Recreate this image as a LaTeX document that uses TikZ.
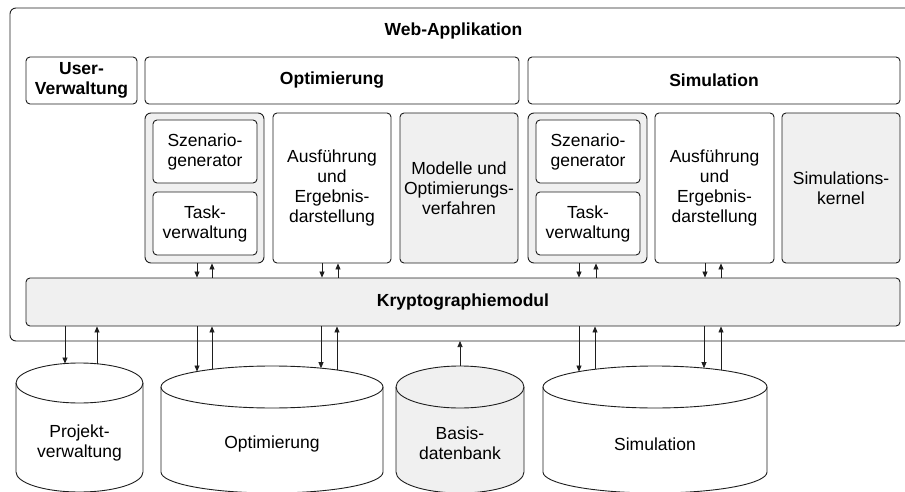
\documentclass[tikz,border=0pt]{standalone}
\usepackage{fontspec}
\setmainfont{Liberation Sans}
\usetikzlibrary{arrows.meta,intersections,calc}
\definecolor{lg}{RGB}{240,240,240}
\definecolor{ln}{RGB}{30,30,30}
\tikzset{
  base/.style={draw=ln, line width=0.9pt, rounded corners=4pt, align=center, inner sep=0pt,
    font=\fontsize{17.5}{20}\selectfont},
  whitebox/.style={base, fill=white},
  graybox/.style={base, fill=lg},
  groupbox/.style={base, fill=lg, rounded corners=6pt},
  head/.style={base, fill=white, font=\fontsize{17.5}{20}\selectfont\bfseries},
  lbl/.style={align=center, inner sep=0pt, font=\fontsize{17.5}{20}\selectfont},
  arr/.style={draw=ln, line width=0.7pt, -{Triangle[length=6pt,width=5pt]}},
}
\newcommand{\dbcyl}[6]{% #1 name, #2 cx, #3 rx, #4 top centre y, #5 ry, #6 fill
  \path[draw=ln, line width=0.9pt, fill=#6] (#2-#3,-#4) -- (#2-#3,-472)
    arc[start angle=180,end angle=360,x radius=#3,y radius=#5] -- (#2+#3,-#4)
    arc[start angle=0,end angle=180,x radius=#3,y radius=#5] -- cycle;
  \draw[draw=ln, line width=0.9pt] (#2-#3,-#4) arc[start angle=180,end angle=360,x radius=#3,y radius=#5];
  \path[name path=#1top] (#2+#3,-#4) arc[start angle=0,end angle=180,x radius=#3,y radius=#5];
}
\newcommand{\kdown}[2]{%
  \path[name path=vline] (#1,-300) -- (#1,-420);
  \draw[arr, name intersections={of=vline and #2top, by=ip}] (kr.south -| ip) -- (ip);
}
\newcommand{\kup}[2]{%
  \path[name path=vline] (#1,-300) -- (#1,-420);
  \draw[arr, name intersections={of=vline and #2top, by=ip}] (ip) -- (kr.south -| ip);
}
\begin{document}
\begin{tikzpicture}[x=1pt,y=1pt]
\useasboundingbox (0,0) rectangle (905,-492);

% outer web application frame
\draw[draw=ln, line width=0.9pt, rounded corners=6pt] (905,-8) -- (10,-8) -- (10,-341) -- (905,-341);
\coordinate (webbot) at (10,-341);
\node[lbl, font=\fontsize{17.5}{20}\selectfont\bfseries] (title) at (453.5,-31) {Web-Applikation};

% header row
\node[head, minimum width=111, minimum height=47] (user) at (81.5,-80.5) {User-\\Verwaltung};
\node[head, minimum width=374, minimum height=47] (opth) at (332,-80.5) {Optimierung};
\node[head, minimum width=372, minimum height=47] (simh) at (714,-80.5) {Simulation};

% optimisation modules
\node[groupbox, minimum width=119, minimum height=150] (optg) at (204.5,-188) {};
\node[whitebox, minimum width=104, minimum height=63] (szen1) at (205,-151.5) {Szenario-\\generator};
\node[whitebox, minimum width=104, minimum height=63] (task1) at (205,-223.5) {Task-\\verwaltung};
\node[whitebox, minimum width=118, minimum height=150] (optaus) at (332,-188) {Ausführung\\und\\Ergebnis-\\darstellung};
\node[graybox, minimum width=118, minimum height=150] (modelle) at (459,-188) {Modelle und\\Optimierungs-\\verfahren};

% simulation modules
\node[groupbox, minimum width=119, minimum height=150] (simg) at (587.5,-188) {};
\node[whitebox, minimum width=104, minimum height=63] (szen2) at (588,-151.5) {Szenario-\\generator};
\node[whitebox, minimum width=104, minimum height=63] (task2) at (588,-223.5) {Task-\\verwaltung};
\node[whitebox, minimum width=119, minimum height=150] (simaus) at (714.5,-188) {Ausführung\\und\\Ergebnis-\\darstellung};
\node[graybox, minimum width=118, minimum height=150] (kernel) at (841,-188) {Simulations-\\kernel};

% crypto module
\node[graybox, minimum width=874, minimum height=48, font=\fontsize{17.5}{20}\selectfont\bfseries] (kr) at (463,-302) {Kryptographiemodul};

% module <-> crypto arrows
\draw[arr] ([xshift=-7.5pt]optg.south) -- ([xshift=-7.5pt]optg.south |- kr.north);
\draw[arr] ([xshift=7.5pt]optg.south |- kr.north) -- ([xshift=7.5pt]optg.south);
\draw[arr] ([xshift=-10pt]optaus.south) -- ([xshift=-10pt]optaus.south |- kr.north);
\draw[arr] ([xshift=6pt]optaus.south |- kr.north) -- ([xshift=6pt]optaus.south);
\draw[arr] ([xshift=-8.5pt]simg.south) -- ([xshift=-8.5pt]simg.south |- kr.north);
\draw[arr] ([xshift=8.5pt]simg.south |- kr.north) -- ([xshift=8.5pt]simg.south);
\draw[arr] ([xshift=-9.5pt]simaus.south) -- ([xshift=-9.5pt]simaus.south |- kr.north);
\draw[arr] ([xshift=6.5pt]simaus.south |- kr.north) -- ([xshift=6.5pt]simaus.south);

% databases
\dbcyl{proj}{79.5}{63.5}{383}{20}{white}
\dbcyl{optdb}{272}{111}{387}{21}{white}
\dbcyl{basis}{460}{64}{387}{21}{lg}
\dbcyl{simdb}{655}{112}{387}{21}{white}
\node[lbl] (projl) at (79.5,-443) {Projekt-\\verwaltung};
\node[lbl] (optl) at (272,-444) {Optimierung};
\node[lbl] (basisl) at (460,-443) {Basis-\\datenbank};
\node[lbl] (siml) at (655,-444) {Simulation};

% crypto <-> database arrows
\kdown{65}{proj}
\kup{97}{proj}
\kdown{197}{optdb}
\kup{212}{optdb}
\kdown{321}{optdb}
\kup{337}{optdb}
\kdown{579}{simdb}
\kup{595}{simdb}
\kdown{704}{simdb}
\kup{721}{simdb}
\path[name path=vline] (460,-300) -- (460,-420);
\draw[arr, name intersections={of=vline and basistop, by=ip}] (ip) -- (ip |- webbot);
\end{tikzpicture}
\end{document}
